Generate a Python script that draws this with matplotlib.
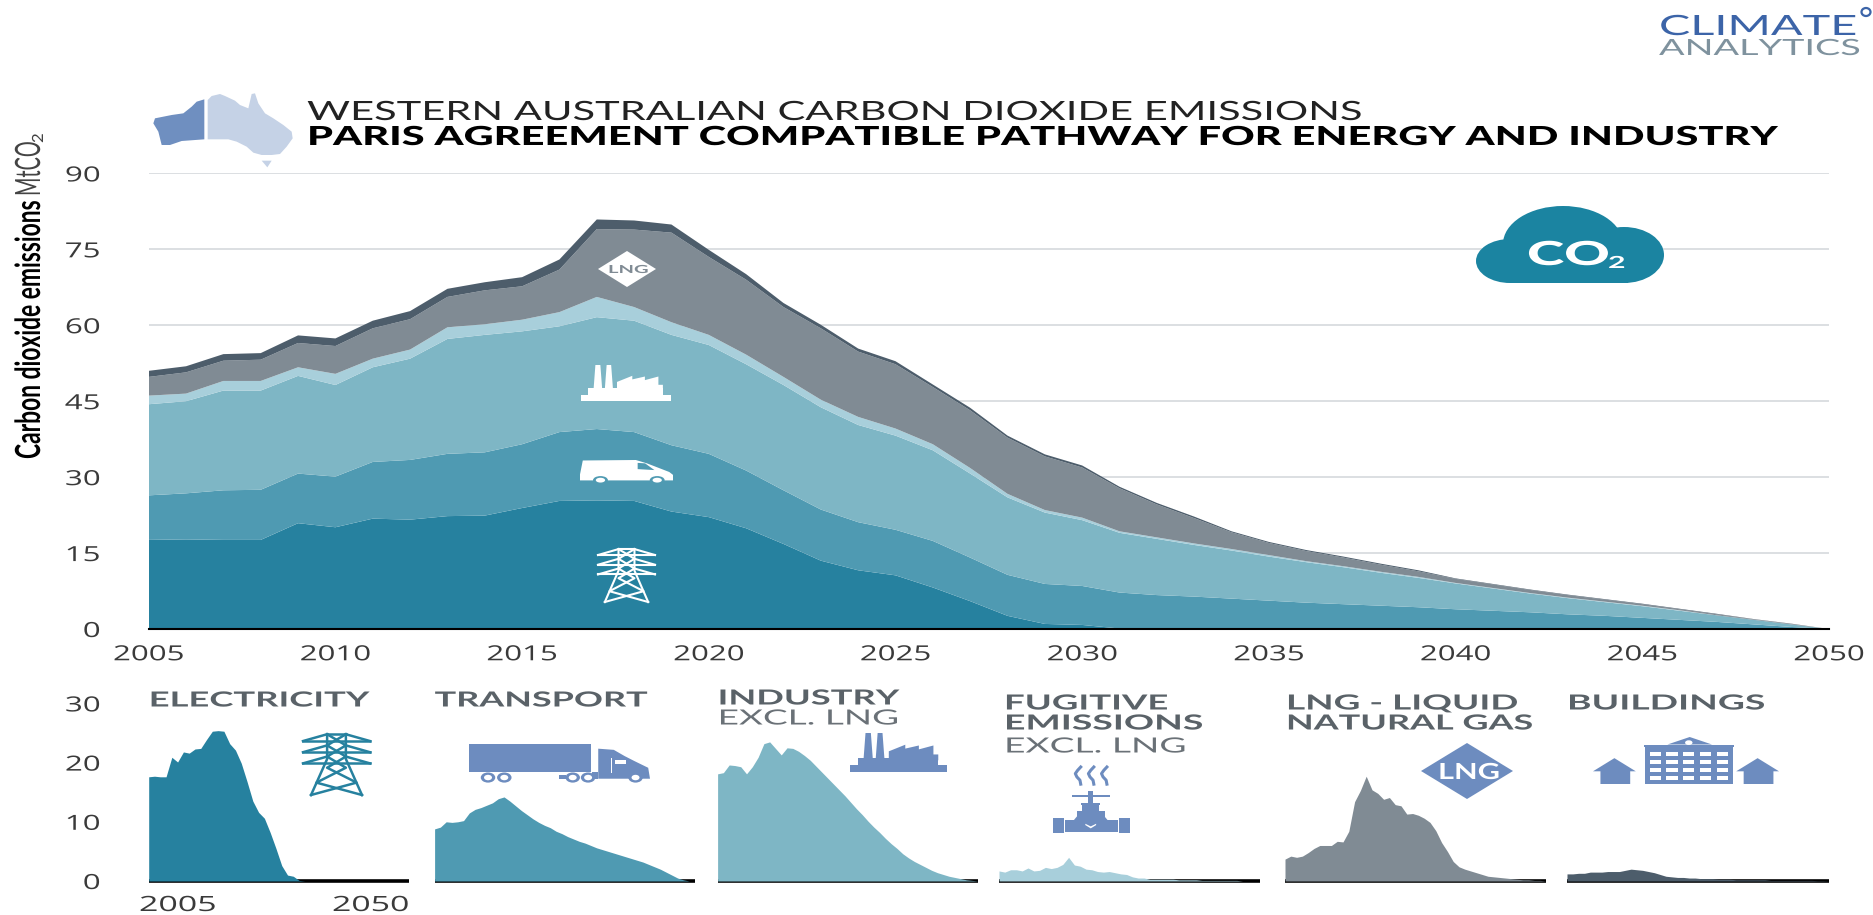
import numpy as np
import matplotlib
matplotlib.use('Agg')
import matplotlib.pyplot as plt
from matplotlib.patches import Polygon, Ellipse, Rectangle
from matplotlib.patheffects import AbstractPathEffect
from matplotlib.font_manager import FontProperties
from matplotlib.textpath import TextPath
from matplotlib.transforms import Affine2D

W, H = 1873, 915

years = list(range(2005, 2051))
electricity = [17.6, 17.7, 17.6, 17.6, 20.9, 20.1, 21.8, 21.6, 22.3, 22.4, 23.9, 25.3, 25.4, 25.3, 23.2, 22.1,
               19.9, 16.8, 13.5, 11.6, 10.6, 8.2, 5.5, 2.6, 1.0, 0.8, 0.1, 0, 0, 0, 0, 0, 0, 0, 0, 0, 0, 0, 0, 0,
               0, 0, 0, 0, 0, 0]
transport = [8.8, 9.1, 9.8, 9.9, 9.8, 10.0, 11.2, 11.8, 12.3, 12.5, 12.6, 13.6, 14.1, 13.6, 13.1, 12.5,
             11.4, 10.6, 10.1, 9.5, 9.0, 9.2, 8.6, 8.1, 7.9, 7.7, 7.1, 6.7, 6.4, 6.0, 5.6, 5.2, 4.9, 4.6, 4.3,
             3.9, 3.6, 3.3, 2.9, 2.6, 2.2, 1.8, 1.4, 0.9, 0.4, 0]
industry = [18.0, 18.2, 19.7, 19.6, 19.3, 18.1, 18.7, 20.0, 22.7, 23.2, 22.3, 20.9, 22.1, 22.0, 21.8, 21.5,
            21.0, 20.8, 20.2, 19.2, 18.6, 17.9, 16.6, 15.3, 14.1, 13.0, 11.8, 11.1, 10.2, 9.5, 8.7, 8.0, 7.3,
            6.5, 5.8, 5.1, 4.4, 3.7, 3.2, 2.7, 2.3, 1.8, 1.3, 0.9, 0.5, 0]
fugitive = [1.7, 1.5, 1.9, 1.9, 1.7, 2.2, 1.7, 1.8, 2.3, 2.1, 2.3, 2.8, 4.0, 2.7, 2.5, 2.0, 1.9, 1.6, 1.5, 1.6,
            1.4, 1.2, 1.1, 0.7, 0.5, 0.5, 0.3, 0.3, 0.3, 0.3, 0.3, 0.2, 0.2, 0.2, 0.2, 0.1, 0.1, 0.1, 0.1, 0.1,
            0.1, 0.1, 0, 0, 0, 0]
lng = [3.7, 4.2, 4.0, 4.2, 4.8, 5.5, 6.0, 6.0, 6.0, 6.7, 6.6, 8.4, 13.4, 15.3, 17.7, 15.4, 14.8, 13.8, 14.1, 12.9,
       12.7, 11.3, 11.4, 11.1, 10.6, 9.9, 8.5, 6.5, 5.0, 3.3, 2.4, 2.0, 1.7, 1.4, 1.1, 0.8, 0.7, 0.6, 0.5, 0.4,
       0.3, 0.2, 0.2, 0.1, 0.1, 0]
buildings = [1.2, 1.2, 1.3, 1.3, 1.5, 1.5, 1.5, 1.6, 1.6, 1.6, 1.8, 2.0, 1.9, 1.8, 1.6, 1.4, 1.1, 0.8, 0.7, 0.6,
             0.6, 0.5, 0.5, 0.4, 0.4, 0.4, 0.3, 0.3, 0.3, 0.2, 0.2, 0.2, 0.2, 0.2, 0.2, 0.1, 0.1, 0.1, 0.1, 0.1,
             0.1, 0.1, 0.1, 0.05, 0.05, 0]

transport_panel = [8.8, 9.1, 10.0, 9.9, 10.0, 10.2, 11.5, 12.1, 12.4, 12.8, 13.2, 13.9, 14.2, 13.5, 12.7, 11.9,
                   11.2, 10.5, 9.9, 9.4, 9.0, 8.4, 8.0, 7.5, 7.1, 6.7, 6.4, 6.0, 5.6, 5.3, 5.0, 4.7, 4.4, 4.1, 3.8,
                   3.5, 3.2, 2.8, 2.4, 2.0, 1.5, 1.0, 0.5, 0.2, 0, 0]
industry_panel = [18.1, 18.3, 19.6, 19.5, 19.3, 18.1, 19.3, 20.9, 23.2, 23.5, 22.4, 21.3, 22.5, 22.4, 21.9, 21.2,
                  20.4, 19.4, 18.4, 17.4, 16.4, 15.4, 14.4, 13.3, 12.2, 11.2, 10.1, 9.1, 8.2, 7.2, 6.3, 5.5, 4.6,
                  3.9, 3.3, 2.8, 2.3, 1.8, 1.4, 1.1, 0.8, 0.6, 0.4, 0.2, 0.1, 0]

main_yticks = [0, 15, 30, 45, 60, 75, 90]
main_xticks = [2005, 2010, 2015, 2020, 2025, 2030, 2035, 2040, 2045, 2050]
small_yticks = [0, 10, 20, 30]

series = [electricity, transport, industry, fugitive, lng, buildings]
panel_series = [electricity, transport_panel, industry_panel, fugitive, lng, buildings]
colors = ['#26819f', '#4f9ab2', '#7eb6c5', '#a8cfdb', '#808b94', '#4d5d6b']
panels = [(148.7, 409), (434.6, 695), (717.6, 978), (999, 1260), (1285, 1546), (1567, 1829)]

BLUE = '#6d8cbf'
TITLE_GREY = '#5a6268'
TICK = '#3a3a3a'


class Stretch(AbstractPathEffect):
    # the reference is a stretched image, so glyphs get scaled too
    def __init__(self, sx=1, pivot='left', sy=1):
        super().__init__()
        self.sx = sx
        self.sy = sy
        self.pivot = pivot

    def draw_path(self, renderer, gc, tpath, affine, rgbFace=None):
        ext = tpath.get_extents()
        p = {'left': 0, 'center': (ext.x0 + ext.x1) / 2, 'right': ext.x1}[self.pivot]
        t = Affine2D().translate(-p, 0).scale(self.sx, self.sy).translate(p, 0) + affine
        renderer.draw_path(gc, tpath, t, rgbFace)


def px_axes(l, r, t, b):
    return fig.add_axes([l / W, 1 - b / H, (r - l) / W, (b - t) / H])


fig = plt.figure(figsize=(W / 100, H / 100), dpi=100)

# Main chart
ax = px_axes(148.7, 1829, 173.4, 629)
ax.stackplot(years, *series, colors=colors, linewidth=0, zorder=2)
ax.set_xlim(2005, 2050)
ax.set_ylim(0, 90)
ax.set_yticks(main_yticks)
ax.set_xticks(main_xticks)
ax.grid(axis='y', color='#dcdfe2', lw=1.4, zorder=1)
ax.set_axisbelow(True)
for s in ['top', 'right', 'left']:
    ax.spines[s].set_visible(False)
ax.spines['bottom'].set_linewidth(1.5)
ax.spines['bottom'].set_zorder(5)
ax.tick_params(axis='y', length=0, pad=35)
ax.tick_params(axis='x', length=0, pad=11)
for lab in ax.get_xticklabels():
    lab.set(family='Open Sans', fontsize=15, color=TICK, path_effects=[Stretch(1.5, 'center')])
for lab in ax.get_yticklabels():
    lab.set(family='Open Sans', fontsize=15, color=TICK, path_effects=[Stretch(1.5, 'right')])

# Small panels
for i, (l, r) in enumerate(panels):
    a = px_axes(l, r, 703.4, 881)
    a.plot([2005, 2050], [0, 0], color='black', lw=2.6, solid_capstyle='butt', clip_on=False, zorder=1)
    a.fill_between(years, panel_series[i], 0, color=colors[i], lw=0, zorder=2)
    a.set_xlim(2005, 2050)
    a.set_ylim(0, 30)
    a.set_xticks([])
    a.patch.set_alpha(0)
    for s in a.spines.values():
        s.set_visible(False)
    if i == 0:
        a.set_yticks(small_yticks)
        a.tick_params(axis='y', length=0, pad=35)
        for lab in a.get_yticklabels():
            lab.set(family='Open Sans', fontsize=15, color=TICK, path_effects=[Stretch(1.5, 'right')])
    else:
        a.set_yticks([])

# Overlay in pixel coordinates, for headings and icons
ov = fig.add_axes([0, 0, 1, 1], zorder=10)
ov.set_xlim(0, W)
ov.set_ylim(H, 0)
ov.axis('off')
ov.patch.set_alpha(0)


def fit_text(x, y, s, width, cap, color='black', weight='normal', family='Lato', rotation=0, z=3):
    # y is the baseline; font size comes from the cap height, stretch from the width
    fp = FontProperties(family=family, weight=weight)
    size = 100 * cap / TextPath((0, 0), 'H', size=100, prop=fp).get_extents().height
    sx = width / TextPath((0, 0), s, size=size, prop=fp).get_extents().width
    if sx < 1:
        # squeezed text: use the smaller font and stretch across instead
        size *= sx
        eff = Stretch(1, 'left', 1 / sx)
    else:
        eff = Stretch(sx)
    fp.set_size(size * 0.72)
    ov.text(x, y, s, fontproperties=fp, color=color, ha='left', va='baseline', rotation=rotation,
            rotation_mode='anchor', path_effects=[eff], zorder=z)


# Titles
fit_text(307, 120, 'WESTERN AUSTRALIAN CARBON DIOXIDE EMISSIONS', 1053, 19, color='#222222')
fit_text(307, 145, 'PARIS AGREEMENT COMPATIBLE PATHWAY FOR ENERGY AND INDUSTRY', 1468, 19, weight='black')

# y label
fit_text(40, 459, 'Carbon dioxide emissions', 257, 25, weight='bold', rotation=90)
fit_text(40, 196, 'MtCO', 52, 25, color='#444444', rotation=90)
fit_text(43, 143, '2', 8, 11, color='#444444', rotation=90)

# Logo
fit_text(1659, 35, 'CLIMATE', 194, 20, color='#3c64a8')
fit_text(1659, 55, 'ANALYTICS', 200, 16, color='#7f929e')
ov.add_patch(Ellipse((1866, 12), 9, 8, fill=False, ec='#3c64a8', lw=1.6))

# Panel headings
heads = [(148.7, 'ELECTRICITY', 218, 706.5, 'bold', TITLE_GREY), (434.6, 'TRANSPORT', 212, 706.5, 'bold', TITLE_GREY),
         (717.6, 'INDUSTRY', 179, 704.5, 'bold', TITLE_GREY), (717.6, 'EXCL. LNG', 176, 724.5, 'normal', '#6a7177'),
         (1004, 'FUGITIVE', 160, 709.5, 'bold', TITLE_GREY), (1004, 'EMISSIONS', 195, 729.5, 'bold', TITLE_GREY),
         (1004, 'EXCL. LNG', 177, 752.5, 'normal', '#6a7177'), (1286, 'LNG - LIQUID', 228, 709.5, 'bold', TITLE_GREY),
         (1286, 'NATURAL GAS', 243, 729.5, 'bold', TITLE_GREY), (1567, 'BUILDINGS', 194, 709.5, 'bold', TITLE_GREY)]
for x, s, w, y, wt, c in heads:
    fit_text(x, y, s, w, 15, color=c, weight=wt)

# x labels of the first small panel
for x, s in [(139, '2005'), (332, '2050')]:
    fit_text(x, 911, s, 74, 15, color=TICK, family='Open Sans')


# Icons, each drawn in a unit box (u right, v down)
def mapper(box):
    x0, y0, x1, y1 = box
    return lambda u, v: (x0 + u * (x1 - x0), y0 + v * (y1 - y0))


def poly(box, pts, color, z=3):
    m = mapper(box)
    ov.add_patch(Polygon([m(u, v) for u, v in pts], closed=True, fc=color, ec='none', zorder=z))


def oval(box, u, v, ru, rv, color, z=4):
    x0, y0, x1, y1 = box
    c = mapper(box)(u, v)
    ov.add_patch(Ellipse(c, 2 * ru * (x1 - x0), 2 * rv * (y1 - y0), fc=color, ec='none', zorder=z))


def rect(box, u0, v0, u1, v1, color, z=3):
    poly(box, [(u0, v0), (u1, v0), (u1, v1), (u0, v1)], color, z)


def pylon(box, color, lw=1.8):
    m = mapper(box)
    segs = [[(.12, 1), (.36, .42), (.36, .02)], [(.88, 1), (.64, .42), (.64, .02)], [(.36, .02), (.64, .02)],
            [(0, .13), (.36, .02)], [(1, .13), (.64, .02)], [(0, .13), (1, .13)],
            [(0, .31), (.36, .2)], [(1, .31), (.64, .2)], [(0, .31), (1, .31)],
            [(0, .49), (.36, .38)], [(1, .49), (.64, .38)], [(0, .49), (1, .49)],
            [(.36, .02), (.64, .2), (.36, .38), (.64, .56), (.2, .8), (.88, 1)],
            [(.64, .02), (.36, .2), (.64, .38), (.36, .56), (.8, .8), (.12, 1)]]
    for seg in segs:
        pts = [m(u, v) for u, v in seg]
        ov.plot([p[0] for p in pts], [p[1] for p in pts], color=color, lw=lw, zorder=3)


def factory(box, color):
    rect(box, 0, .83, 1, 1, color)
    rect(box, .08, .65, .91, .85, color)
    poly(box, [(.14, .66), (.16, 0), (.215, 0), (.235, .66)], color)
    poly(box, [(.265, .66), (.285, 0), (.335, 0), (.355, .66)], color)
    poly(box, [(.4, .7), (.4, .47), (.57, .3), (.57, .4), (.71, .32), (.71, .42), (.86, .32), (.86, .55),
               (.91, .55), (.91, .7)], color)


def van(box, color, bg):
    poly(box, [(.03, .02), (.6, 0), (.72, .14), (.96, .5), (1, .62), (1, .85), (0, .85), (0, .6)], color)
    poly(box, [(.62, .12), (.7, .14), (.8, .42), (.62, .38)], bg, 4)
    for u in (.22, .83):
        oval(box, u, .84, .08, .17, bg)
        oval(box, u, .84, .05, .1, color, 5)


def truck(box, color, bg):
    rect(box, 0, 0, .675, .72, color)
    poly(box, [(.714, .12), (.8, .15), (.86, .31), (.915, .44), (.99, .61), (1, .89), (.714, .89)], color)
    rect(box, .68, .72, .714, .89, color)
    rect(box, .5, .8, .535, .9, color)
    rect(box, .805, .4, .87, .52, bg, 4)
    rect(box, .782, .37, .79, .75, bg, 4)
    for u in (.105, .195, .573, .658, .92):
        oval(box, u, .86, .04, .13, color)
        oval(box, u, .86, .022, .07, bg, 5)


def valve(box, color, bg):
    m = mapper(box)
    for u in (.33, .5, .67):
        vs = np.array([0, .05, .1, .15, .2, .26])
        us = u + np.array([.03, -.01, -.04, -.02, .02, .03])
        ov.plot([m(a, b)[0] for a, b in zip(us, vs)], [m(a, b)[1] for a, b in zip(us, vs)], color=color, lw=2.2)
    rect(box, .25, .42, .74, .45, color)
    rect(box, .46, .37, .52, .56, color)
    rect(box, .37, .54, .61, .58, color)
    rect(box, .38, .57, .6, .67, color)
    rect(box, .31, .66, .67, .76, color)
    poly(box, [(.31, .75), (.67, .75), (.72, .82), (.26, .82)], color)
    rect(box, .15, .81, .85, .98, color)
    rect(box, 0, .78, .145, 1, color)
    rect(box, .855, .78, 1, 1, color)
    rect(box, .145, .78, .16, 1, bg, 4)
    rect(box, .84, .78, .855, 1, bg, 4)
    poly(box, [(.42, .86), (.49, .9), (.56, .86), (.56, .88), (.49, .93), (.42, .88)], bg, 4)


def houses(box, color, bg):
    for u0 in (0, .77):
        poly(box, [(u0, .73), (u0 + .115, .45), (u0 + .23, .73), (u0 + .2, .73), (u0 + .2, 1),
                   (u0 + .04, 1), (u0 + .04, .73)], color)
    rect(box, .275, .16, .76, .22, color)
    poly(box, [(.4, .16), (.52, 0), (.64, .16)], color)
    rect(box, .28, .22, .755, 1, color)
    oval(box, .515, .12, .02, .05, bg)
    for r_ in range(4):
        for c_ in range(5):
            rect(box, .305 + c_ * .09, .31 + r_ * .17, .365 + c_ * .09, .41 + r_ * .17, bg, 4)


def diamond(cx, cy, rx, ry, color, txt_color, text_w, cap):
    ov.add_patch(Polygon([(cx - rx, cy), (cx, cy - ry), (cx + rx, cy), (cx, cy + ry)], fc=color, ec='none', zorder=3))
    fit_text(cx - text_w / 2, cy + cap / 2, 'LNG', text_w, cap, color=txt_color, weight='bold', z=4)


# Icons inside the main chart
diamond(627, 269, 29, 18, 'white', '#808b94', 38, 8)
factory((581, 365, 671, 401), 'white')
van((580, 460, 673, 484), 'white', '#4f9ab2')
pylon((598, 548, 655, 602), 'white', lw=1.5)

# Icons of the small panels
pylon((303, 733, 370, 795), '#26819f', lw=1.8)
truck((469, 744, 650, 783), BLUE, 'white')
factory((850, 733, 947, 772), BLUE)
valve((1053, 767, 1130, 833), BLUE, 'white')
diamond(1467, 771, 46, 28, BLUE, 'white', 58, 16)
houses((1593, 737, 1779, 784), BLUE, 'white')

# CO2 cloud
CLOUD = '#1b84a1'
for c, rx, ry in [((1510, 261), 34, 22), ((1563, 244), 60, 38), ((1624, 255), 40, 28)]:
    ov.add_patch(Ellipse(c, 2 * rx, 2 * ry, fc=CLOUD, ec='none', zorder=3))
ov.add_patch(Rectangle((1510, 250), 118, 33, fc=CLOUD, ec='none', zorder=3))
fit_text(1527, 265, 'CO', 79, 24, color='white', weight='black', z=6)
fit_text(1608, 268, '2', 15, 12, color='white', weight='bold', z=6)


def map_pts(pts):
    return [(140 + x / 3, 80 + y / 3) for x, y in pts]


wa_map = [(193, 58), (170, 65), (155, 80), (130, 100), (95, 105), (45, 115), (40, 130), (55, 155), (65, 195),
          (90, 195), (125, 183), (193, 178)]
rest_map = [(203, 60), (215, 48), (240, 42), (255, 48), (285, 62), (300, 75), (325, 85), (335, 42), (345, 40),
            (355, 70), (375, 100), (400, 115), (430, 135), (455, 155), (458, 175), (440, 200), (420, 222),
            (395, 225), (365, 225), (340, 218), (320, 200), (290, 185), (265, 178), (203, 178)]
tas_map = [(365, 242), (395, 242), (382, 262)]
ov.add_patch(Polygon(map_pts(wa_map), fc='#6f8fc0', ec='none'))
ov.add_patch(Polygon(map_pts(rest_map), fc='#c5d2e6', ec='none'))
ov.add_patch(Polygon(map_pts(tas_map), fc='#c5d2e6', ec='none'))

fig.savefig('out.png', dpi=100)
